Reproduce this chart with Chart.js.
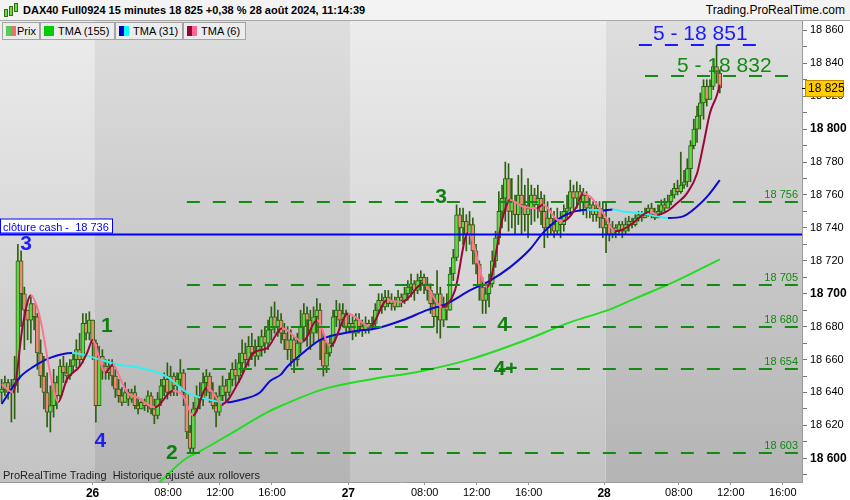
<!DOCTYPE html>
<html>
<head>
<meta charset="utf-8">
<script src="https://cdn.jsdelivr.net/npm/chart.js@4.4.1/dist/chart.umd.min.js"></script>
<style>
body{margin:0;background:#fff;font-family:"Liberation Sans",Arial,sans-serif}
#wrap{position:relative;width:850px;height:500px;overflow:hidden}
#head{position:absolute;left:0;top:0;width:850px;height:21px;background:#f3f3f3;border-bottom:1px solid #a8a8a8;box-sizing:border-box}
#title{position:absolute;left:23px;top:4px;font-weight:bold;font-size:11px;color:#000;white-space:nowrap}
#site{position:absolute;right:5px;top:3px;font-size:12px;color:#000}
.ic{position:absolute;width:2px;border:1px solid #3a6b1a;background:#66dd44}
.item{position:absolute;top:22px;height:18px;box-sizing:border-box;border:1px solid #a4a4a4;background:#ececec;font-size:11px;line-height:16px;color:#000;white-space:nowrap}
.sw{position:absolute;top:3px;width:10px;height:10px}
.lab{position:absolute;top:0}
#foot{position:absolute;left:3px;top:469px;font-size:11px;color:#222;white-space:nowrap}
</style>
</head>
<body>
<div id="wrap">
<canvas id="c" width="850" height="500"></canvas>
<div id="head">
<span class="ic" style="left:4px;top:9px;height:6px"></span>
<span class="ic" style="left:9px;top:6px;height:8px"></span>
<span class="ic" style="left:14px;top:3px;height:7px"></span>
<div id="title">DAX40 Full0924 15 minutes 18 825 +0,38 % 28 août 2024, 11:14:39</div>
<div id="site">Trading.ProRealTime.com</div>
</div>
<div class="item" style="left:2px;width:38px"><span class="lab" style="left:14px">Prix</span><span class="sw" style="left:3px;width:5px;background:#55cc55"></span><span class="sw" style="left:8px;width:5px;background:#e6736a"></span></div>
<div class="item" style="left:40px;width:75px"><span class="sw" style="left:3px;background:#00cc00"></span><span class="lab" style="left:17px">TMA (155)</span></div>
<div class="item" style="left:115px;width:68px"><span class="sw" style="left:3px;width:5px;background:#0000cc"></span><span class="sw" style="left:8px;width:5px;background:#00ffff"></span><span class="lab" style="left:17px">TMA (31)</span></div>
<div class="item" style="left:183px;width:63px"><span class="sw" style="left:3px;width:5px;background:#990033"></span><span class="sw" style="left:8px;width:5px;background:#ff6699"></span><span class="lab" style="left:17px">TMA (6)</span></div>
<div id="foot">ProRealTime Trading&nbsp; Historique ajusté aux rollovers</div>
</div>
<script>
// bougies 15 min, une par barre (ouverture = clôture précédente)
const firstOpen=18640
const closes=[18642,18646,18640,18644,18648,18720,
18700,18690,18684,18694,18686,18664,18650,18640,18628,18632,18646,18638,
18656,18652,18650,18656,18660,18666,18660,18682,18676,18684,18670,18632,
18662,18656,18652,18656,18650,18642,18638,18634,18640,18636,18640,18632,
18630,18634,18632,18638,18630,18626,18636,18644,18648,18640,18650,18644,
18648,18652,18640,18616,18606,18630,18638,18636,18646,18650,18640,18632,
18628,18638,18644,18640,18648,18654,18650,18658,18664,18660,18668,18664,
18662,18668,18674,18670,18678,18686,18680,18684,18676,18672,18666,18672,
18660,18670,18680,18688,18684,18676,18686,18690,18672,18656,18664,18670,
18686,18690,18684,18688,18680,18682,18676,18684,18680,18678,18682,18680,
18682,18690,18696,18692,18698,18694,18696,18692,18698,18696,18700,18704,
18706,18702,18708,18710,18706,18702,18694,18686,18700,18684,18692,18690,
18712,18722,18748,18740,18744,18736,18742,18726,18718,18704,18696,18700,
18706,18720,18734,18750,18758,18770,18750,18756,18748,18760,18754,18748,
18752,18760,18754,18758,18750,18740,18746,18742,18738,18746,18742,18750,
18752,18762,18758,18762,18756,18760,18752,18754,18748,18752,18746,18740,
18742,18736,18740,18738,18742,18738,18742,18744,18742,18746,18748,18746,
18748,18752,18748,18746,18750,18754,18752,18756,18760,18764,18762,18766,
18768,18776,18790,18800,18808,18816,18826,18818,18826,18838,18834,18825]
const highs=[18648,18650,18648,18648,18662,18730,
18726,18704,18690,18698,18692,18688,18672,18662,18652,18644,18654,18650,
18660,18662,18658,18660,18664,18672,18676,18688,18688,18689,18684,18672,
18668,18666,18660,18660,18660,18654,18648,18643,18646,18642,18642,18644,
18637,18636,18636,18641,18640,18636,18640,18648,18652,18658,18656,18652,
18652,18660,18654,18640,18620,18634,18644,18646,18652,18654,18652,18646,
18640,18644,18650,18648,18652,18658,18660,18664,18672,18670,18674,18676,
18672,18674,18678,18680,18684,18692,18695,18690,18688,18682,18680,18678,
18674,18676,18690,18694,18692,18690,18692,18697,18694,18676,18670,18674,
18690,18696,18694,18694,18690,18688,18686,18688,18688,18684,18686,18684,
18686,18694,18700,18700,18702,18702,18700,18698,18702,18700,18704,18708,
18712,18708,18712,18714,18712,18710,18706,18700,18714,18704,18698,18700,
18716,18727,18754,18752,18752,18748,18750,18746,18730,18720,18710,18706,
18712,18726,18738,18762,18766,18780,18779,18770,18760,18772,18776,18766,
18770,18766,18764,18766,18762,18760,18756,18752,18750,18752,18750,18754,
18760,18769,18766,18768,18766,18764,18762,18758,18756,18756,18756,18756,
18755,18746,18744,18742,18744,18744,18746,18747,18746,18748,18750,18750,
18752,18754,18755,18752,18754,18757,18758,18760,18763,18767,18769,18786,
18775,18782,18793,18806,18814,18822,18830,18830,18830,18842,18851,18836]
const lows=[18634,18638,18636,18622,18624,18640,
18680,18666,18672,18670,18678,18654,18643,18630,18619,18616,18625,18630,
18636,18646,18646,18648,18652,18655,18656,18658,18672,18672,18660,18622,
18632,18648,18648,18648,18644,18637,18634,18632,18634,18632,18634,18630,
18627,18630,18629,18628,18627,18621,18624,18632,18638,18636,18638,18638,
18638,18644,18632,18612,18603,18604,18628,18630,18632,18638,18634,18630,
18619,18626,18632,18634,18638,18644,18644,18646,18652,18654,18656,18660,
18656,18660,18662,18664,18666,18672,18676,18674,18670,18666,18660,18656,
18652,18656,18664,18672,18668,18666,18670,18676,18660,18650,18652,18662,
18668,18680,18678,18680,18676,18676,18672,18674,18676,18674,18676,18676,
18678,18680,18688,18688,18690,18692,18690,18690,18692,18692,18694,18696,
18698,18696,18700,18702,18700,18696,18688,18680,18676,18673,18680,18684,
18690,18708,18720,18732,18730,18726,18730,18718,18712,18696,18688,18688,
18692,18704,18716,18730,18740,18744,18738,18740,18736,18742,18736,18738,
18734,18742,18744,18746,18742,18728,18734,18736,18734,18736,18734,18738,
18746,18748,18750,18752,18750,18748,18746,18746,18744,18744,18740,18734,
18725,18732,18734,18734,18736,18734,18736,18738,18740,18741,18744,18744,
18746,18747,18746,18745,18746,18748,18750,18752,18754,18758,18760,18761,
18764,18765,18768,18788,18792,18800,18806,18814,18818,18824,18828,18822]

// moyennes mobiles triangulaires (indice de barre, valeur)
const tma155X=[47.8,56.4,61,71.2,81.7,85.7,98.9,113.4,128.7,144.1,159.5,174.9,187.2,194.3,206.6,221]
const tma155Y=[18584,18599.4,18604.2,18615.8,18627.9,18631.6,18641.9,18647.9,18652.8,18660.1,18670.5,18682.6,18690.5,18696.6,18706.9,18720.9]
const tma31X=[0,5.7,9.7,14.9,21.7,30.3,35.5,42.6,50.9,57,61,69.4,73.4,79.5,82.6,86,87.8,92.7,98,108.1,115.5,123.5,130.9,137,144.1,150.3,156.4,162.6,166.6,172.7,180.1,185,188,191.2,196.4,201.7,205.1,209.7,214,217.1,221]
const tma31Y=[18633,18649.4,18655.5,18661,18664,18660,18657,18655,18649.5,18640,18637,18634,18635.5,18640,18647,18651,18655.5,18664,18672,18677,18679,18684,18690,18694,18702,18708,18716,18727,18737,18747,18751,18750.6,18751.2,18750,18749,18747,18746,18747,18753,18759,18769]
const tma6X=[0,3.5,6.6,9,10.9,12.4,14,15.8,17.4,20.1,24.1,26.3,28.1,29.4,31.8,34.3,36.4,38.6,41.7,47.2,52.7,55.8,58.9,63.2,65,67.8,73.4,77.4,81.7,86.3,92.7,97.1,101.1,106.6,113.4,118.6,123.2,129.7,135.5,139.5,143.5,149.4,154.3,156.4,160.4,164.7,166.6,170.9,172.7,177,178.9,181.1,185.4,188.7,191.2,194.3,197.4,199.5,201.7,204.7,207.8,210.9,214,216,218,220,221]
const tma6Y=[18645,18640,18682,18699,18692,18680,18662,18643,18634,18648,18656,18664,18672,18665,18652,18657,18649,18640,18637,18631,18641,18638,18626,18643,18640,18633,18648,18664,18667,18679,18671,18684,18668,18688,18680,18696,18695,18706,18692,18702,18737,18704,18747,18757,18753,18752,18754,18745,18744,18753,18761,18759,18748,18738,18739,18743,18748,18750,18748,18750,18755,18761,18773,18791,18810,18820,18827]

// axe du temps (indice de barre)
const xTickPos=[28,51.2,67.2,83.2,106.7,130.2,146.2,162.2,185.4,208.4,224.4,240.4]
const xTickLabels=['26','08:00','12:00','16:00','27','08:00','12:00','16:00','28','08:00','12:00','16:00']
const dayStarts=[28.5,107.2,185.9]

// niveaux tracés
const levels=[18756,18705,18680,18654,18603]
const levelStart=57
const cashClose=18736
const target1=18851, target1From=196.1, target1To=232.1, target1Mid=215
const target2=18832, target2From=198, target2To=242.6, target2Mid=222.4
const noteText=['3','4','1','2','3','4','4+']
const noteBar=[7.5,30.4,32.4,52.4,135.2,154.3,155.1]
const notePrice=[18730,18610.5,18680.4,18602.8,18758.5,18680.7,18654]
const noteBlue=[true,true,false,false,false,false,false]

const FONT='"Liberation Sans", Arial, sans-serif'
const DKGREEN='#2d5f10'
const LVGREEN='#138a13'

function fmt(v){
let s=String(Math.round(v))
return s.slice(0,-3)+' '+s.slice(-3)
}

function pts(xs,ys){
return xs.map((x,i)=>({x:x,y:ys[i]}))
}

let opens=closes.map((c,i)=>i?closes[i-1]:firstOpen)
let wickData=closes.map((c,i)=>({x:i,y:[lows[i],highs[i]]}))
let bodyData=closes.map((c,i)=>({x:i,y:[opens[i],c===opens[i]?c+0.4:c]}))
let bodyColors=closes.map((c,i)=>c>=opens[i]?'#5fd84a':'#f08a78')

const bgPlugin={
id:'bg',
beforeDraw(ch){
let ctx=ch.ctx, a=ch.chartArea, x=ch.scales.x
ctx.save()
ctx.fillStyle='#fff'
ctx.fillRect(0,0,ch.width,ch.height)
let edges=[a.left].concat(dayStarts.map(d=>x.getPixelForValue(d)),[a.right])
for(let k=0;k<edges.length-1;k++){
let dark=k%2===1
let g=ctx.createLinearGradient(0,a.top,0,a.bottom)
g.addColorStop(0,dark?'#dedede':'#ececec')
g.addColorStop(1,dark?'#b4b4b4':'#c3c3c3')
ctx.fillStyle=g
ctx.fillRect(edges[k],a.top,edges[k+1]-edges[k],a.bottom-a.top)
}
ctx.restore()
}
}

function dashed(ctx,x0,x1,y,color){
ctx.save()
ctx.strokeStyle=color
ctx.lineWidth=2
ctx.setLineDash([13,13])
ctx.beginPath()
ctx.moveTo(x0,y)
ctx.lineTo(x1,y)
ctx.stroke()
ctx.restore()
}

const overlayPlugin={
id:'overlay',
afterDatasetsDraw(ch){
let ctx=ch.ctx, a=ch.chartArea, x=ch.scales.x, y=ch.scales.y
ctx.save()
ctx.beginPath()
ctx.rect(a.left,a.top,a.right-a.left,a.bottom-a.top)
ctx.clip()

// niveaux horizontaux
ctx.font='11px '+FONT
ctx.textAlign='right'
ctx.textBaseline='alphabetic'
levels.forEach(l=>{
let py=Math.round(y.getPixelForValue(l))
dashed(ctx,x.getPixelForValue(levelStart),a.right,py,LVGREEN)
ctx.fillStyle=LVGREEN
ctx.fillText(fmt(l),a.right-4,py-4)
})

// cloture cash
let cy=Math.round(y.getPixelForValue(cashClose))+0.5
ctx.strokeStyle='#0000ff'
ctx.lineWidth=2
ctx.beginPath()
ctx.moveTo(a.left,cy)
ctx.lineTo(a.right,cy)
ctx.stroke()
ctx.fillStyle='#fff'
ctx.fillRect(a.left+0.5,cy-15.5,112,14)
ctx.strokeStyle='#0000ff'
ctx.lineWidth=1
ctx.strokeRect(a.left+0.5,cy-15.5,112,14)
ctx.fillStyle='#0000ff'
ctx.font='11px '+FONT
ctx.textAlign='left'
ctx.fillText('clôture cash -  '+fmt(cashClose),a.left+3,cy-4)

// objectifs 5
let t1=Math.round(y.getPixelForValue(target1))
dashed(ctx,x.getPixelForValue(target1From),x.getPixelForValue(target1To),t1,'#1a1aff')
let t2=Math.round(y.getPixelForValue(target2))
dashed(ctx,x.getPixelForValue(target2From),x.getPixelForValue(target2To),t2,LVGREEN)
ctx.font='21px '+FONT
ctx.textAlign='center'
ctx.fillStyle='#1a1aff'
ctx.fillText('5 - '+fmt(target1),x.getPixelForValue(target1Mid),t1-5)
ctx.fillStyle=LVGREEN
ctx.fillText('5 - '+fmt(target2),x.getPixelForValue(target2Mid),t2-4)

// comptage des vagues
ctx.font='bold 21px '+FONT
ctx.textBaseline='middle'
noteText.forEach((t,i)=>{
ctx.fillStyle=noteBlue[i]?'#1f1fef':'#0f800f'
ctx.fillText(t,x.getPixelForValue(noteBar[i]),y.getPixelForValue(notePrice[i]))
})
ctx.restore()
},
afterDraw(ch){
let ctx=ch.ctx, a=ch.chartArea, y=ch.scales.y
let last=closes[closes.length-1]
let py=Math.round(y.getPixelForValue(last))
ctx.save()
ctx.strokeStyle='#000'
ctx.lineWidth=1
ctx.beginPath()
ctx.moveTo(a.right,py+0.5)
ctx.lineTo(a.right+5,py+0.5)
ctx.stroke()
ctx.fillStyle='#ffcc00'
ctx.fillRect(805.5,py-7.5,38,16)
ctx.strokeStyle='#c08a00'
ctx.strokeRect(805.5,py-7.5,38,16)
ctx.fillStyle='#000'
ctx.font='12px '+FONT
ctx.textAlign='left'
ctx.textBaseline='middle'
ctx.fillText(fmt(last),808,py+1)
ctx.restore()
}
}

function maLine(label,xs,ys,up,down,order){
return {
type:'line',
label:label,
data:pts(xs,ys),
borderWidth:2,
pointRadius:0,
cubicInterpolationMode:'monotone',
borderColor:up,
segment:{borderColor:c=>c.p1.parsed.y>=c.p0.parsed.y?up:down},
order:order
}
}

Chart.defaults.font.family=FONT

new Chart(document.getElementById('c'),{
type:'bar',
data:{
datasets:[
maLine('TMA (6)',tma6X,tma6Y,'#9b0838','#ff7399',1),
maLine('TMA (31)',tma31X,tma31Y,'#0a0ad2','#33f0f0',2),
maLine('TMA (155)',tma155X,tma155Y,'#22dd22','#22dd22',3),
{label:'Prix',data:bodyData,backgroundColor:bodyColors,borderColor:DKGREEN,borderWidth:1,borderSkipped:false,barThickness:4,grouped:false,order:4},
{label:'Mèches',data:wickData,backgroundColor:DKGREEN,borderWidth:0,barThickness:1,grouped:false,order:5}
]
},
options:{
responsive:false,
animation:false,
layout:{padding:{top:21,left:0,right:0,bottom:0}},
plugins:{legend:{display:false},tooltip:{enabled:false}},
scales:{
x:{
type:'linear',
min:-0.5,
max:246.3,
offset:false,
grid:{drawOnChartArea:false,tickLength:3,color:'#999',offset:false},
border:{color:'#9a9a9a'},
afterBuildTicks:s=>{s.ticks=xTickPos.map(v=>({value:v}))},
afterFit:s=>{s.height=18},
ticks:{
autoSkip:false,
maxRotation:0,
padding:1,
color:'#000',
font:c=>/^\d\d$/.test(xTickLabels[c.index])?{size:12,weight:'bold'}:{size:11},
callback:(v,i)=>xTickLabels[i]
}
},
y:{
position:'right',
min:18585.6,
max:18865.7,
grid:{drawOnChartArea:false,tickLength:5,color:'#777'},
border:{color:'#9a9a9a'},
afterBuildTicks:s=>{
let t=[]
for(let v=18590;v<=18860;v+=10)t.push({value:v})
s.ticks=t
},
afterFit:s=>{s.width=48},
ticks:{
autoSkip:false,
padding:3,
color:'#000',
font:c=>c.tick&&c.tick.value%100===0?{size:12,weight:'bold'}:{size:11},
callback:v=>v%20===0?fmt(v):''
}
}
}
},
plugins:[bgPlugin,overlayPlugin]
})
</script>
</body>
</html>
